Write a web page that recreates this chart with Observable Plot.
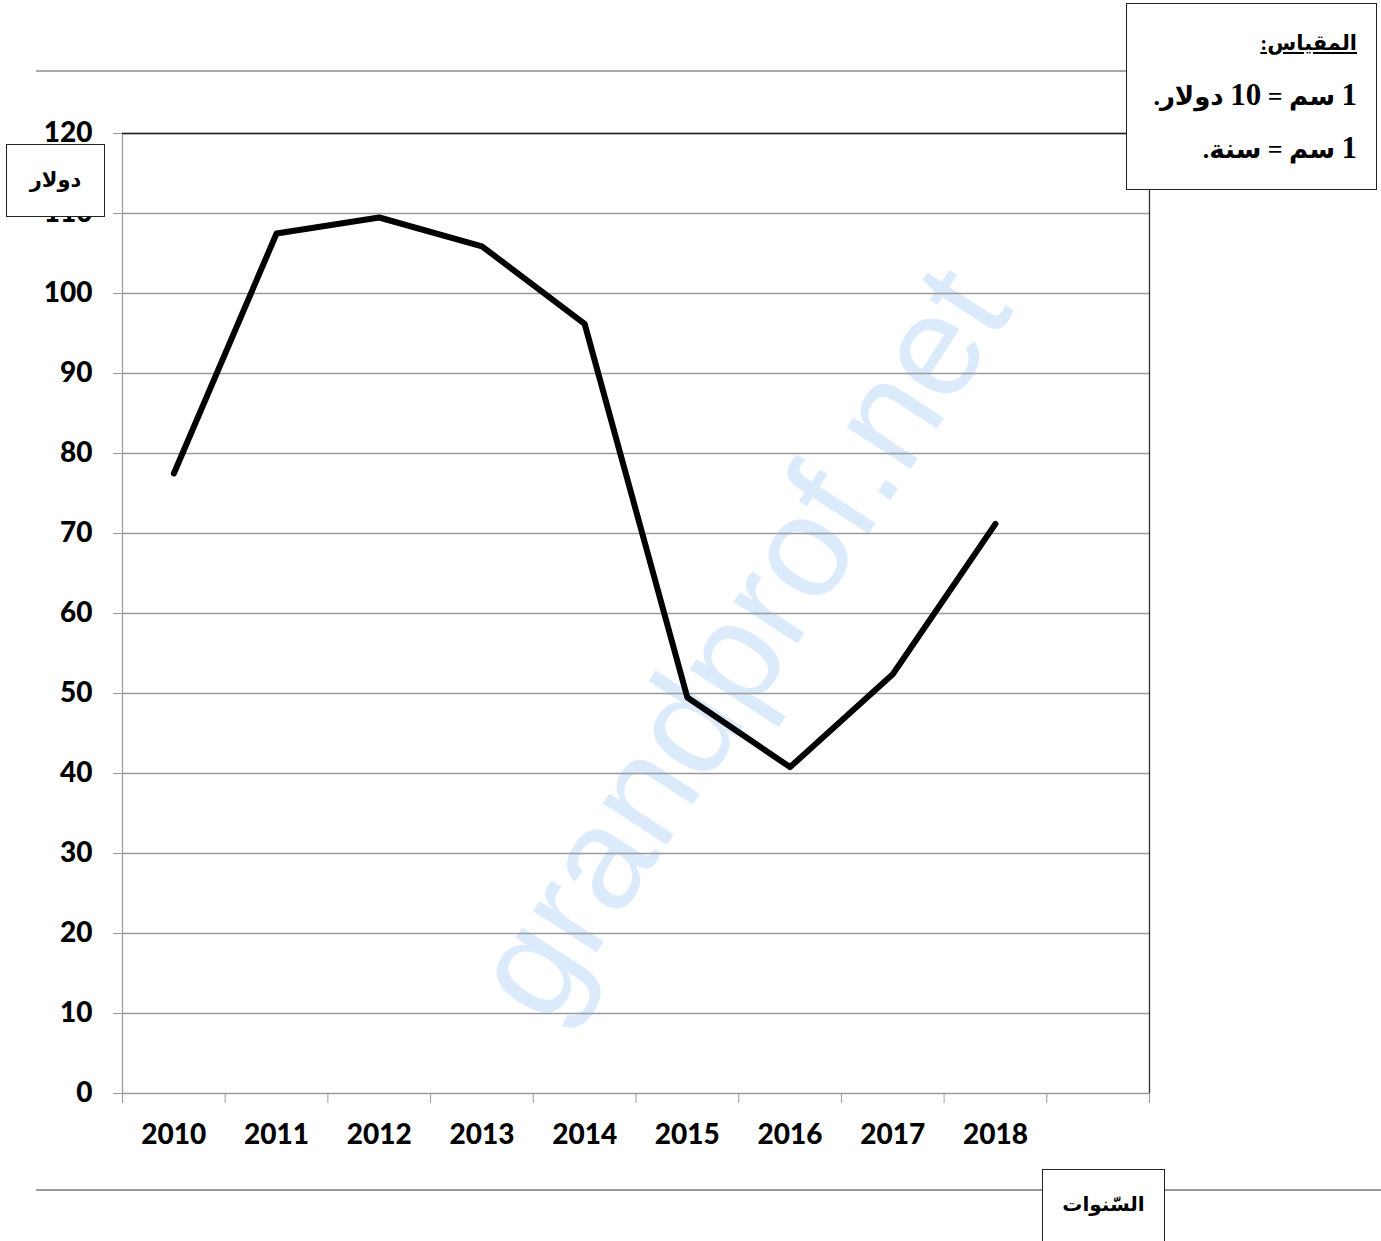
<!DOCTYPE html>
<html><head><meta charset="utf-8">
<script src="https://cdn.jsdelivr.net/npm/d3@7"></script>
<script src="https://cdn.jsdelivr.net/npm/@observablehq/plot@0.6"></script>
<style>
body{margin:0;background:#fff;}
#wrap{position:relative;width:1381px;height:1241px;overflow:hidden;background:#fff;}
#wrap svg{position:absolute;left:0;top:0;}
.abs{position:absolute;}
.wm{position:absolute;left:740px;top:642px;font-family:"Liberation Sans",Arial,sans-serif;font-size:144px;color:#dcebfc;white-space:nowrap;transform:translate(-50%,-50%) rotate(-57deg);line-height:1;}
.hline{position:absolute;background:#a8a8a8;height:1.5px;}
.box{position:absolute;background:#fff;border:1px solid #222;box-sizing:border-box;}
.ar{font-family:"Liberation Serif","DejaVu Sans",serif;font-weight:bold;color:#000;direction:rtl;white-space:nowrap;}
.num{font-family:"Liberation Serif",serif;font-weight:bold;font-size:31px;}
</style></head><body><div id="wrap"></div>
<script>
const years = [2010, 2011, 2012, 2013, 2014, 2015, 2016, 2017, 2018];
const prices = [77.5, 107.5, 109.5, 105.9, 96.2, 49.5, 40.8, 52.4, 71.2];
const yTicks = [0, 10, 20, 30, 40, 50, 60, 70, 80, 90, 100, 110, 120];
const yearLabel = "السّنوات";
const valueLabel = "دولار";
const scaleTitle = "المقياس:";
const scaleLine1 = ["1", " سم = ", "10", " دولار."];
const scaleLine2 = ["1", " سم = سنة."];
const watermark = "grandprof.net";

const data = years.map((year, i) => ({year, price: prices[i]}));
const slotEdges = d3.range(years[0] - 0.5, years[years.length - 1] + 2, 1); // one empty slot after last year
const xDomain = [slotEdges[0], slotEdges[slotEdges.length - 1]];

const wrap = document.getElementById("wrap");

const wm = document.createElement("div");
wm.className = "wm";
wm.textContent = watermark;
wrap.appendChild(wm);

const chart = Plot.plot({
  width: 1381, height: 1241,
  marginLeft: 122, marginRight: 232, marginTop: 133, marginBottom: 148,
  x: {domain: xDomain},
  y: {domain: [0, 120]},
  style: {fontFamily: "Lato, 'Open Sans', sans-serif", background: "transparent", overflow: "visible"},
  marks: [
    Plot.gridY(yTicks, {stroke: "#9a9a9a", strokeOpacity: 1, strokeWidth: 1.3}),
    Plot.axisY(yTicks, {tickSize: 9, tickPadding: 21, stroke: "#9a9a9a", fill: "#000", fontSize: 28, fontWeight: 900, label: null, tickFormat: d => String(d)}),
    Plot.axisX(slotEdges, {tickSize: 10, stroke: "#9a9a9a", tickFormat: () => "", label: null}),
    Plot.axisX(years, {tickSize: 0, tickPadding: 31, fill: "#000", fontSize: 28, fontWeight: 900, label: null, tickFormat: d => String(d)}),
    Plot.ruleX([xDomain[0]], {y1: 0, y2: 120, stroke: "#9a9a9a", strokeWidth: 1.3}),
    Plot.ruleX([xDomain[1]], {y1: 0, y2: 120, stroke: "#333", strokeWidth: 1.3}),
    Plot.ruleY([120], {stroke: "#222", strokeWidth: 1.3}),
    Plot.line(data, {x: "year", y: "price", stroke: "#000", strokeWidth: 6, strokeLinejoin: "round", strokeLinecap: "round"})
  ]
});
wrap.appendChild(chart);

function add(tag, cls, css, text) {
  const el = document.createElement(tag);
  el.className = cls;
  Object.assign(el.style, css);
  if (text != null) el.textContent = text;
  wrap.appendChild(el);
  return el;
}
function addParts(el, parts) {
  parts.forEach(p => {
    const s = document.createElement("span");
    if (/^\d+$/.test(p)) s.className = "num";
    s.textContent = p;
    el.appendChild(s);
  });
}

// page rules
add("div", "hline", {left: "36px", top: "70px", width: "1090px"});
add("div", "hline", {left: "36px", top: "1189px", width: "1345px", background: "#999"});

// scale box
add("div", "box", {left: "1126px", top: "3px", width: "251px", height: "187px"});
add("div", "abs ar", {right: "24px", top: "27px", fontSize: "21px", lineHeight: "32px", textDecoration: "underline"}, scaleTitle);
addParts(add("div", "abs ar", {right: "24px", top: "76px", fontSize: "26px", lineHeight: "38px"}), scaleLine1);
addParts(add("div", "abs ar", {right: "24px", top: "129px", fontSize: "26px", lineHeight: "38px"}), scaleLine2);

// y label box
const yb = add("div", "box", {left: "6px", top: "144px", width: "99px", height: "73px", display: "flex", alignItems: "center", justifyContent: "center"});
const yt = document.createElement("span"); yt.className = "ar"; yt.style.fontSize = "21px"; yt.textContent = valueLabel; yb.appendChild(yt);

// x label box
const xb = add("div", "box", {left: "1042px", top: "1169px", width: "123px", height: "90px", paddingTop: "22px", textAlign: "center"});
const xt = document.createElement("span"); xt.className = "ar"; xt.style.fontSize = "20px"; xt.textContent = yearLabel; xb.appendChild(xt);
</script>
</body></html>
